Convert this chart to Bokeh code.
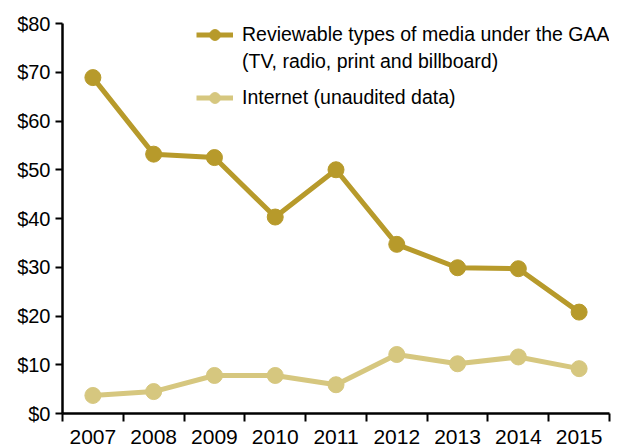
from bokeh.plotting import figure
from bokeh.models import FixedTicker, Range1d, Legend, LegendItem, NumeralTickFormatter
from bokeh.embed import file_html
from bokeh.resources import INLINE

years = ["2007", "2008", "2009", "2010", "2011", "2012", "2013", "2014", "2015"]
reviewable = [68.9, 53.2, 52.5, 40.3, 50.0, 34.7, 29.9, 29.7, 20.8]
internet = [3.7, 4.5, 7.8, 7.8, 5.9, 12.1, 10.2, 11.6, 9.2]
y_ticks = [0, 10, 20, 30, 40, 50, 60, 70, 80]
label_1 = "Reviewable types of media under the GAA"
label_1b = "(TV, radio, print and billboard)"
label_2 = "Internet (unaudited data)"

dark = "#B79A2B"
light = "#D6C77F"
FONT = "Liberation Sans"

xs = [i + 0.5 for i in range(len(years))]

p = figure(width=618, height=448, output_backend="svg", toolbar_location=None,
           x_range=Range1d(0, len(years)), y_range=Range1d(0, 80),
           min_border_left=62, min_border_right=9, min_border_top=23, min_border_bottom=35)
p.outline_line_color = None
p.xgrid.grid_line_color = None
p.ygrid.grid_line_color = None

r1 = p.line(xs, reviewable, line_color=dark, line_width=5)
c1 = p.scatter(xs, reviewable, size=16, fill_color=dark, line_color=dark)
r2 = p.line(xs, internet, line_color=light, line_width=5)
c2 = p.scatter(xs, internet, size=16, fill_color=light, line_color=light)
dummy = p.line([], [], line_alpha=0)

xa = p.xaxis[0]
xa.ticker = FixedTicker(ticks=xs, minor_ticks=list(range(len(years) + 1)))
xa.major_label_overrides = {x: y for x, y in zip(xs, years)}
xa.major_tick_out = 0
xa.major_tick_in = 0
xa.minor_tick_out = 8
xa.minor_tick_in = 0
xa.minor_tick_line_color = "black"
xa.minor_tick_line_width = 2
xa.axis_line_width = 2.5
xa.axis_line_color = "black"
xa.major_label_text_font = FONT
xa.major_label_text_font_size = "21px"
xa.major_label_text_color = "black"
xa.major_label_standoff = 8

ya = p.yaxis[0]
ya.ticker = FixedTicker(ticks=y_ticks, minor_ticks=[])
ya.formatter = NumeralTickFormatter(format="$0")
ya.major_tick_out = 7
ya.major_tick_in = 0
ya.major_tick_line_width = 2
ya.axis_line_width = 2.5
ya.major_label_text_font = FONT
ya.major_label_text_font_size = "20px"
ya.major_label_text_color = "black"
ya.major_label_standoff = 5


def style(lg):
    lg.label_text_font = FONT
    lg.label_text_font_size = "19.5px"
    lg.label_text_color = "black"
    lg.background_fill_alpha = 0
    lg.border_line_color = None
    lg.glyph_width = 37
    lg.glyph_height = 27
    lg.label_height = 27
    lg.label_standoff = 9
    lg.spacing = 0
    lg.margin = 0
    lg.padding = 0


legend_a = Legend(items=[
    LegendItem(label=label_1, renderers=[r1, c1]),
    LegendItem(label=label_1b, renderers=[dummy]),
], location=(134, 338))
style(legend_a)
legend_b = Legend(items=[
    LegendItem(label=label_2, renderers=[r2, c2]),
], location=(134, 302))
style(legend_b)
p.add_layout(legend_a)
p.add_layout(legend_b)

open("out.html", "w").write(file_html(p, INLINE))
